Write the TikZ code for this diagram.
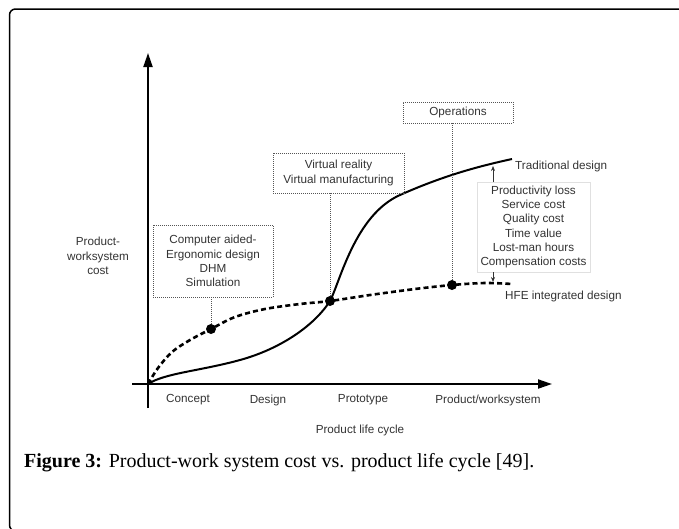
\documentclass[tikz,border=0pt]{standalone}
\usepackage{fontspec}
\setmainfont{Liberation Serif}
\newfontfamily\labelfont{Liberation Sans}
\usetikzlibrary{arrows.meta,calc}
\definecolor{txt}{HTML}{333333}
\definecolor{boxline}{HTML}{555555}
\tikzset{
  axis/.style={line width=2pt,-{Triangle[length=14pt,width=9pt]}},
  lbl/.style={font=\labelfont\fontsize{11.7}{14.2}\selectfont,text=txt,inner sep=0pt,align=center},
  notebox/.style={lbl,draw=boxline,line width=0.9pt,dash pattern=on 1pt off 1pt},
  costbox/.style={lbl,draw=black!12,line width=0.6pt,fill=white},
  leader/.style={draw=boxline,line width=0.9pt,dash pattern=on 1pt off 1pt},
  pointer/.style={draw=txt,line width=0.7pt,-{Stealth[length=5pt,width=4pt]}},
  dot/.style={circle,fill=black,inner sep=0pt,minimum size=10pt},
  tradcurve/.style={line width=2pt},
  hfecurve/.style={line width=2.6pt,dash pattern=on 5pt off 3.2pt},
}
\begin{document}
\begin{tikzpicture}[x=1pt,y=-1pt]
\useasboundingbox (0,0) rectangle (679,528);
% outer frame
\begin{scope}
\clip (0,0) rectangle (679,528);
\draw[line width=1.5pt,rounded corners=6pt] (9.5,9) rectangle (720,531);
\end{scope}

% axes
\coordinate (O) at (148,384);
\coordinate (ytop) at (148,53);
\coordinate (ybot) at (148,408);
\coordinate (xleft) at (132,384);
\coordinate (xright) at (552,384);
\draw[axis] (ybot) -- (ytop);
\draw[axis] (xleft) -- (xright);

% axis labels
\node[lbl] (ylab) at (98,256) {Product-\\worksystem\\cost};
\node[lbl] (concept) at (188,400) {Concept};
\node[lbl] (design) at (268,400) {Design};
\node[lbl] (proto) at (363,400) {Prototype};
\node[lbl] (prod) at (488,400) {Product/worksystem};
\node[lbl] (xlab) at (360,430) {Product life cycle};

% milestones on the integrated-design curve
\node[dot] (d1) at (211,329) {};
\node[dot] (d2) at (330,301) {};
\node[dot] (d3) at (452,285) {};

% traditional design cost curve
\draw[tradcurve] (O) .. controls (165,373) and (200,371) .. (240,360)
  .. controls (280,349) and (314,326) .. (d2.center)
  .. controls (340,282) and (355,215) .. (400,195)
  .. controls (445,175) and (480,166) .. (512,159);
% HFE integrated design cost curve
\draw[hfecurve] plot[smooth,tension=0.55] coordinates {
  (148,384) (158,368) (172,352) (190,340) (211,329) (235,317) (265,309)
  (300,304) (330,301) (370,295) (415,289) (452,285) (485,283) (512,284)};

% annotation boxes
\node[notebox,minimum width=120pt,minimum height=72pt] (b1) at (213,261)
  {Computer aided-\\Ergonomic design\\DHM\\Simulation};
\node[notebox,minimum width=131pt,minimum height=40pt] (b2) at (338.5,173)
  {Virtual reality\\Virtual manufacturing};
\node[notebox,minimum width=110pt,minimum height=21pt] (b3) at (458,112.5)
  {Operations};
\draw[leader] (b1.south -| d1) -- (d1);
\draw[leader] (b2.south -| d2) -- (d2);
\draw[leader] (b3.south -| d3) -- (d3);

% cost difference box
\node[costbox,minimum width=113pt,minimum height=90pt] (cost) at (533.5,227)
  {Productivity loss\\Service cost\\Quality cost\\Time value\\Lost-man hours\\Compensation costs};
\coordinate (ctop) at (493,182);
\coordinate (cbot) at (493,272);
\coordinate (ontrad) at (493,166);
\coordinate (onhfe) at (493,282);
\draw[pointer] (ctop) -- (ontrad);
\draw[pointer] (cbot) -- (onhfe);

\node[lbl,anchor=west] (tradlab) at (515,166) {Traditional design};
\node[lbl,anchor=west] (hfelab) at (505,296) {HFE integrated design};

% caption
\node[anchor=base west,inner sep=0pt,font=\fontsize{20}{22}\selectfont] (cap) at (24,467)
  {\textbf{Figure 3:} Product-work system cost vs. product life cycle [49].};
\end{tikzpicture}
\end{document}
